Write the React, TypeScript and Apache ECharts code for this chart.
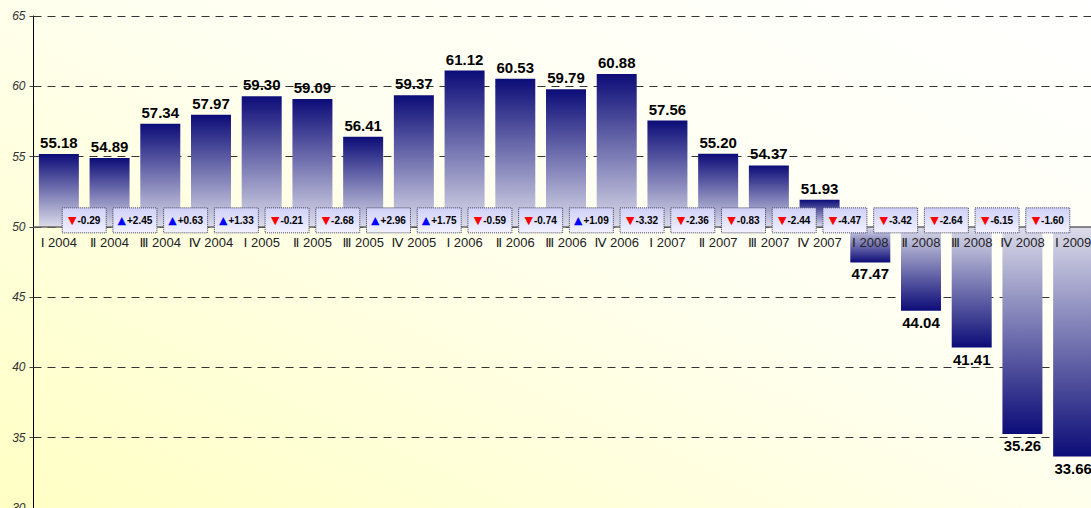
import React, { useEffect, useRef } from 'react';
import * as echarts from 'echarts';

const categories = [
  'Ⅰ 2004', 'Ⅱ 2004', 'Ⅲ 2004', 'Ⅳ 2004',
  'Ⅰ 2005', 'Ⅱ 2005', 'Ⅲ 2005', 'Ⅳ 2005',
  'Ⅰ 2006', 'Ⅱ 2006', 'Ⅲ 2006', 'Ⅳ 2006',
  'Ⅰ 2007', 'Ⅱ 2007', 'Ⅲ 2007', 'Ⅳ 2007',
  'Ⅰ 2008', 'Ⅱ 2008', 'Ⅲ 2008', 'Ⅳ 2008',
  'Ⅰ 2009',
];

const indexValues = [
  55.18, 54.89, 57.34, 57.97,
  59.30, 59.09, 56.41, 59.37,
  61.12, 60.53, 59.79, 60.88,
  57.56, 55.20, 54.37, 51.93,
  47.47, 44.04, 41.41, 35.26,
  33.66,
];

// change versus previous quarter, shown between consecutive bars
const changes = [
  -0.29, 2.45, 0.63, 1.33,
  -0.21, -2.68, 2.96, 1.75,
  -0.59, -0.74, 1.09, -3.32,
  -2.36, -0.83, -2.44, -4.47,
  -3.42, -2.64, -6.15, -1.60,
];

const Y_MIN = 30;
const Y_MAX = 65;
const Y_INTERVAL = 5;
const BASE = 50;

export default function App() {
  const ref = useRef<HTMLDivElement>(null);

  useEffect(() => {
    if (!ref.current) return;
    const chart = echarts.init(ref.current, null, { renderer: 'svg' });
    const H = 508;
    const gridTop = 16;
    const gridBottom = 0;
    const plotH = H - gridTop - gridBottom;
    const axisOffset = -plotH * (BASE - Y_MIN) / (Y_MAX - Y_MIN);
    const dark = '#0c0c78';
    const light = '#dcdcea';
    const font = '"Liberation Sans", Arial, "DejaVu Sans", sans-serif';

    const baseData = indexValues.map((v) => Math.min(v, BASE));
    const barData = indexValues.map((v) => {
      const up = v >= BASE;
      return {
        value: Math.abs(v - BASE),
        itemStyle: {
          color: new echarts.graphic.LinearGradient(0, 0, 0, 1, up
            ? [{ offset: 0, color: dark }, { offset: 1, color: light }]
            : [{ offset: 0, color: light }, { offset: 1, color: dark }]),
        },
        label: { position: up ? 'top' : 'bottom' },
      };
    });

    const option: any = {
      animation: false,
      backgroundColor: 'transparent',
      grid: { left: 33.5, right: -7.5, top: gridTop, bottom: gridBottom, containLabel: false, outerBoundsMode: 'none' },
      xAxis: {
        type: 'category',
        data: categories,
        position: 'bottom',
        offset: axisOffset,
        z: 10,
        boundaryGap: true,
        axisTick: { show: false },
        axisLine: { show: true, lineStyle: { color: '#666', width: 1.5 } },
        axisLabel: { interval: 0, color: '#222', fontSize: 13, fontFamily: font, margin: 9 },
        splitLine: { show: false },
      },
      yAxis: {
        type: 'value',
        min: Y_MIN,
        max: Y_MAX,
        interval: Y_INTERVAL,
        axisLine: { show: true, lineStyle: { color: '#000', width: 1 } },
        axisTick: { show: true, length: 4, lineStyle: { color: '#444' } },
        axisLabel: { color: '#333', fontSize: 12, fontStyle: 'italic', fontFamily: font, margin: 8 },
        splitLine: { show: true, lineStyle: { color: '#333', type: [8, 6], width: 1 } },
      },
      series: [
        {
          type: 'bar',
          stack: 'idx',
          data: baseData,
          barWidth: 40,
          silent: true,
          itemStyle: { color: 'rgba(0,0,0,0)' },
          label: { show: false },
        },
        {
          type: 'bar',
          stack: 'idx',
          data: barData,
          barWidth: 40,
          label: {
            show: true,
            distance: 4,
            color: '#000',
            fontSize: 15,
            fontWeight: 'bold',
            fontFamily: font,
            formatter: (p: any) => indexValues[p.dataIndex].toFixed(2),
          },
        },
        {
          type: 'custom',
          z: 20,
          data: changes.map((c, i) => [i, c]),
          renderItem: (params: any, api: any) => {
            const i = api.value(0) as number;
            const c = api.value(1) as number;
            const p0 = api.coord([i, BASE]);
            const p1 = api.coord([i + 1, BASE]);
            const cx = (p0[0] + p1[0]) / 2;
            const y = p0[1];
            const up = c > 0;
            const txt = (up ? '+' : '') + c.toFixed(2);
            return {
              type: 'group',
              children: [
                {
                  type: 'rect',
                  shape: { x: cx - 22, y: y - 19, width: 44, height: 25 },
                  style: {
                    fill: new echarts.graphic.LinearGradient(0, 0, 0, 1, [
                      { offset: 0, color: '#d0d0f6' },
                      { offset: 1, color: '#f2f2ff' },
                    ]),
                    stroke: '#3c3c5c',
                    lineWidth: 1,
                    lineDash: [1, 1],
                  },
                },
                {
                  type: 'text',
                  style: {
                    text: `{${up ? 'u' : 'd'}|${up ? '▲' : '▼'}}{v|${txt}}`,
                    x: cx,
                    y: y - 6.5,
                    align: 'center',
                    verticalAlign: 'middle',
                    rich: {
                      u: { fill: '#0000ff', fontSize: 11, fontFamily: '"DejaVu Sans", sans-serif' },
                      d: { fill: '#ff0000', fontSize: 11, fontFamily: '"DejaVu Sans", sans-serif' },
                      v: { fill: '#000', fontSize: 10, fontWeight: 'bold', fontFamily: font, padding: [0, 0, 0, 1] },
                    },
                  },
                },
              ],
            };
          },
        },
      ],
    };

    chart.setOption(option);
    return () => chart.dispose();
  }, []);

  return (
    <div
      ref={ref}
      style={{
        position: 'fixed',
        left: 0,
        top: 0,
        width: 1091,
        height: 508,
        background: 'linear-gradient(to top right, #ffffc4 0%, #fffff0 55%, #ffffff 100%)',
      }}
    />
  );
}
